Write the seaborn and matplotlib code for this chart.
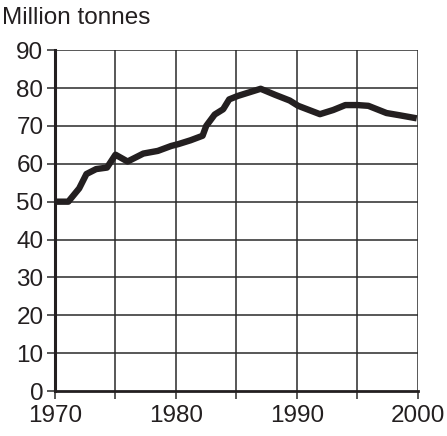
import numpy as np
import pandas as pd
import matplotlib
matplotlib.use('Agg')
import matplotlib.pyplot as plt
import seaborn as sns

# values
years = [1970.0, 1971.1, 1972.0, 1972.6, 1973.4, 1974.3, 1975.0, 1976.0, 1977.3,
         1978.5, 1979.6, 1980.2, 1981.2, 1982.2, 1982.5, 1983.2, 1983.9, 1984.4,
         1985.1, 1986.0, 1987.0, 1988.2, 1989.4, 1990.1, 1991.0, 1991.9, 1993.0,
         1994.0, 1995.0, 1995.9, 1997.4, 1998.5, 1999.9]
tonnes = [50.0, 50.0, 53.5, 57.3, 58.6, 59.0, 62.4, 60.6, 62.7,
          63.4, 64.7, 65.2, 66.2, 67.4, 70.0, 73.0, 74.4, 77.0,
          77.9, 78.8, 79.8, 78.2, 76.7, 75.3, 74.2, 73.1, 74.2,
          75.5, 75.5, 75.3, 73.4, 72.8, 72.0]
xticks = [1970, 1980, 1990, 2000]
yticks = list(range(0, 91, 10))

sns.set_style('ticks')
plt.rcParams['font.family'] = ['Liberation Sans', 'DejaVu Sans']
plt.rcParams['font.size'] = 17.5

df = pd.DataFrame({'year': years, 'tonnes': tonnes})

fig = plt.figure(figsize=(4.47, 4.36), dpi=100)
ax = fig.add_axes([0.123, 0.103, 0.812, 0.782])

# grid every 5 years / every 10 tonnes
for x in range(1975, 2001, 5):
    ax.axvline(x, color='#2a2a2a', lw=1.1, zorder=1)
for y in yticks[1:]:
    ax.axhline(y, color='#2a2a2a', lw=1.1, zorder=1)

sns.lineplot(data=df, x='year', y='tonnes', ax=ax, color='#231f20',
             lw=4.6, solid_capstyle='butt', zorder=3)

ax.set_xlim(1970, 2000)
ax.set_ylim(0, 90)
ax.set_xticks(range(1970, 2001, 5))
ax.set_xticklabels([str(t) if t in xticks else '' for t in range(1970, 2001, 5)])
ax.set_yticks(yticks)
ax.set_yticklabels([str(t) for t in yticks])
ax.tick_params(axis='both', length=5.8, width=1.1, color='#2a2a2a',
               labelcolor='#231f20')
ax.tick_params(axis='x', pad=4.5)
ax.tick_params(axis='y', pad=2.5)
ax.set_xlabel('')
ax.set_ylabel('')

for side in ['top', 'right']:
    ax.spines[side].set_visible(False)
ax.spines['left'].set_linewidth(2.2)
ax.spines['bottom'].set_linewidth(2.0)
ax.spines['left'].set_color('#231f20')
ax.spines['bottom'].set_color('#231f20')

fig.text(0.005, 0.958, 'Million tonnes', ha='left', va='center',
         color='#231f20', fontsize=17.5)

fig.savefig('out.png', dpi=100)
